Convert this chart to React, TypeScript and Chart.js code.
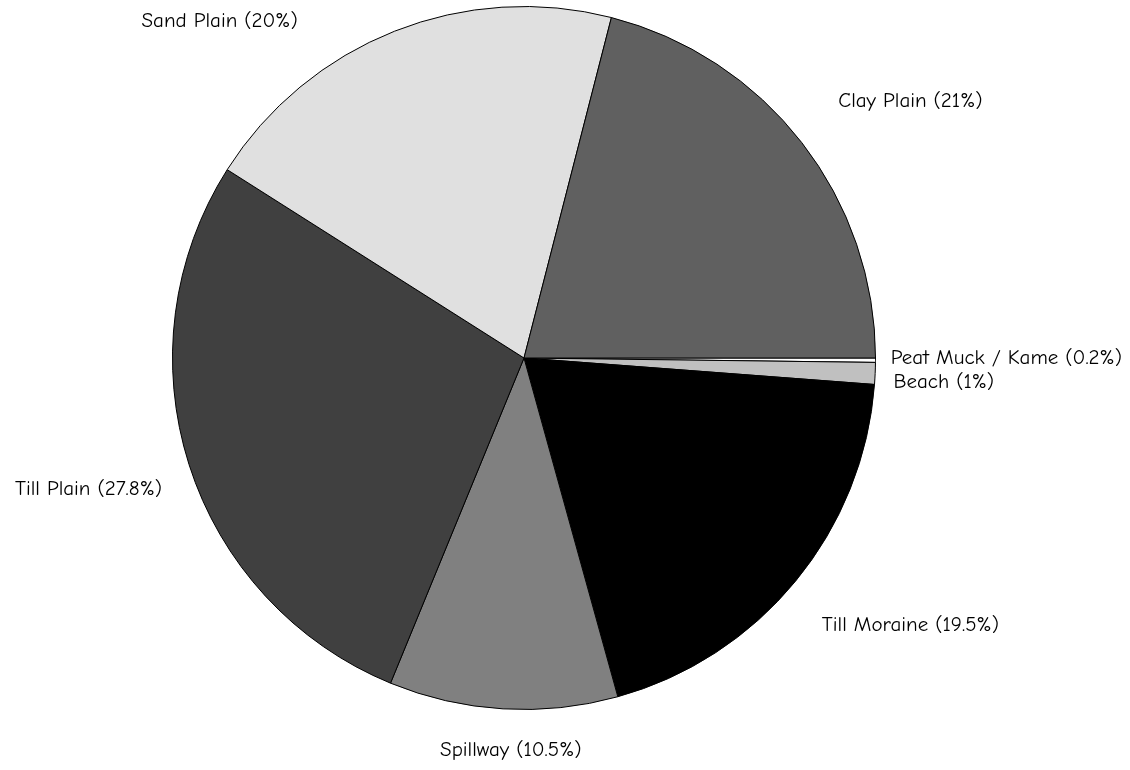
import React, { useEffect, useRef } from "react";
import { Chart, registerables } from "chart.js";

Chart.register(...registerables);

const categories = [
  "Peat Muck / Kame",
  "Beach",
  "Till Moraine",
  "Spillway",
  "Till Plain",
  "Sand Plain",
  "Clay Plain",
];
const percentages = [0.2, 1, 19.5, 10.5, 27.8, 20, 21];
const labelTexts = [
  "Peat Muck / Kame (0.2%)",
  "Beach (1%)",
  "Till Moraine (19.5%)",
  "Spillway (10.5%)",
  "Till Plain (27.8%)",
  "Sand Plain (20%)",
  "Clay Plain (21%)",
];
const sliceColors = ["#ffffff", "#c0c0c0", "#000000", "#808080", "#404040", "#e0e0e0", "#606060"];

// label layout: alignment and pixel nudges from the 1.2R anchor
const labelAlign = ["left", "left", "left", "center", "right", "right", "left"];
const labelNudge = [
  [-55, -3],
  [-52, 6],
  [-28, -1],
  [12, -29],
  [40, 3],
  [-71, 55],
  [-19, 2],
];

const FONT = '21px "Comic Sans MS", "Comic Neue", "Comic Sans", "DejaVu Sans", sans-serif';

const pieLabels = {
  id: "pieLabels",
  afterDatasetsDraw(chart: any) {
    const meta = chart.getDatasetMeta(0);
    const ctx = chart.ctx;
    ctx.save();
    ctx.font = FONT;
    ctx.fillStyle = "#000000";
    ctx.textBaseline = "middle";
    meta.data.forEach((arc: any, i: number) => {
      const { x, y, startAngle, endAngle, outerRadius } = arc.getProps(
        ["x", "y", "startAngle", "endAngle", "outerRadius"],
        true
      );
      const mid = (startAngle + endAngle) / 2;
      const r = outerRadius * 1.2;
      const lx = x + r * Math.cos(mid) + labelNudge[i][0];
      const ly = y + r * Math.sin(mid) + labelNudge[i][1];
      ctx.textAlign = labelAlign[i] as CanvasTextAlign;
      ctx.fillText(labelTexts[i], lx, ly);
    });
    ctx.restore();
  },
};

export default function App() {
  const ref = useRef<HTMLCanvasElement | null>(null);
  useEffect(() => {
    if (!ref.current) return;
    const chart = new Chart(ref.current, {
      type: "pie",
      data: {
        labels: categories,
        datasets: [
          {
            data: percentages,
            backgroundColor: sliceColors,
            borderColor: "#000000",
            borderWidth: 1,
            borderAlign: "center",
          },
        ],
      },
      options: {
        responsive: false,
        animation: false,
        rotation: 90,
        layout: { padding: { left: 172, right: 254, top: 6, bottom: 60 } },
        plugins: {
          legend: { display: false },
          tooltip: { enabled: false },
          title: { display: false },
        },
      },
      plugins: [pieLabels],
    });
    return () => chart.destroy();
  }, []);
  return (
    <div style={{ position: "absolute", left: 0, top: 0, width: 1130, height: 770, background: "#ffffff" }}>
      <canvas ref={ref} width={1130} height={770} style={{ display: "block" }} />
    </div>
  );
}
